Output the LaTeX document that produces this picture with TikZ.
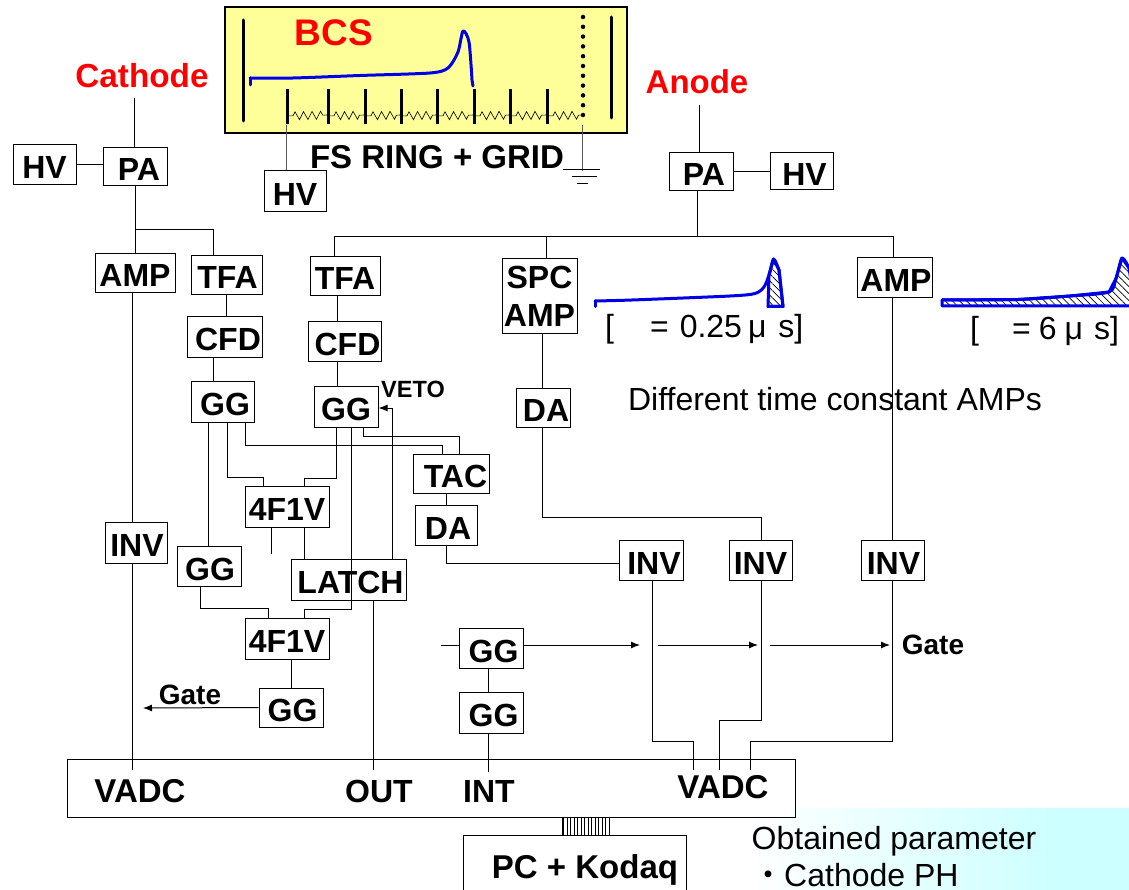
\documentclass[tikz,border=0pt]{standalone}
\usepackage{fontspec}
\setmainfont{Liberation Sans}
\newfontfamily\cjkfont{Noto Sans CJK JP}
\usepackage{tikz}
\usetikzlibrary{arrows.meta,decorations.pathmorphing,patterns.meta}
\definecolor{bcsyellow}{RGB}{255,255,153}
\definecolor{paleblue}{RGB}{204,255,255}
\definecolor{wave}{RGB}{0,0,230}
\newcommand{\sz}[1]{\fontsize{#1}{#1}\selectfont}

\begin{document}
\begin{tikzpicture}[x=1pt, y=-1pt,
	box/.style={draw, line width=1pt, fill=white, inner sep=0pt, text height=28pt, text depth=0pt, font=\sz{32}\bfseries},
	twobox/.style={draw, line width=1pt, fill=white, inner sep=0pt, align=center, font=\sz{32}\bfseries},
	lab/.style={inner sep=0pt, font=\sz{32}\bfseries},
	plain/.style={inner sep=0pt, font=\sz{32}},
	wire/.style={line width=1pt},
	tip/.style={wire, -{Latex[length=9pt, width=7pt]}},
	plate/.style={line width=3pt, line cap=round},
	pulse/.style={line width=3pt, wave, line join=round, line cap=round},
	hatch/.style={pattern={Lines[angle=-45, distance=5pt, line width=0.7pt]}}]
\useasboundingbox (0,0) rectangle (1129,890);

% backgrounds
\fill[left color=white, right color=paleblue] (745,808) rectangle (1060,890);
\fill[paleblue] (1060,808) rectangle (1129,890);
\draw[line width=1.3pt, fill=bcsyellow] (225,7) rectangle (627,133);

% chamber
\draw[plate] (243,20) -- (243,121);
\draw[plate] (611,17) -- (611,118);
\draw[line width=4.5pt, line cap=round, dash pattern=on 0pt off 9.8pt] (583,17) -- (583,115);
\foreach \x in {287, 328, 365, 401, 437, 474, 510, 547}
{
	\draw[plate, line cap=butt] (\x, 89) -- (\x, 124);
}
\foreach \a/\b in {287/328, 328/365, 365/401, 401/437, 437/474, 474/510, 510/547, 547/583}
{
	\draw[line width=0.6pt, decorate, decoration={zigzag, amplitude=4pt, segment length=8.5pt, pre length=6pt, post length=4pt}] (\a, 116) -- (\b, 115);
}
\draw[pulse] plot[smooth, tension=0.45] coordinates {(250,78) (293,78) (360,75.5) (430,73) (448,68) (458,52) (463,31) (469,42) (472,80)} -- (473,86);
\draw[pulse] (250,85) -- (250,78);

\node[lab, text=red, font=\sz{37}\bfseries] (bcs) at (334,33) {BCS};
\node[lab, text=red, font=\sz{33.3}\bfseries] (cathode) at (142,76) {Cathode};
\node[lab, text=red, font=\sz{33}\bfseries] (anode) at (697,82) {Anode};
\node[lab, font=\sz{33}\bfseries] (ring) at (437,157) {FS RING + GRID};

% boxes
\node[box, minimum width=63pt, minimum height=40pt] (hva) at (44.5,165) {HV};
\node[box, minimum width=64pt, minimum height=38pt] (paa) at (135,167) {\hspace{8pt}PA};
\node[box, minimum width=62pt, minimum height=41pt] (hvb) at (295,191.5) {HV};
\node[box, minimum width=64pt, minimum height=38pt] (pab) at (701,172) {\hspace{6pt}PA};
\node[box, minimum width=63pt, minimum height=37pt] (hvc) at (801.5,171.5) {\hspace{6pt}HV};

\node[box, minimum width=80pt, minimum height=39pt] (ampa) at (135,273) {AMP};
\node[box, minimum width=71pt, minimum height=39pt] (tfaa) at (226.5,275) {\hspace{2pt}TFA};
\node[box, minimum width=70pt, minimum height=39pt] (tfab) at (345,276) {TFA};
\node[twobox, minimum width=75pt, minimum height=75pt] (spc) at (539.5,296.5) {SPC\\[6pt]AMP};
\node[box, minimum width=75pt, minimum height=40pt] (ampb) at (894.5,278) {\hspace{3pt}AMP};
\node[box, minimum width=75pt, minimum height=40pt] (cfda) at (224.5,337) {\hspace{7pt}CFD};
\node[box, minimum width=73pt, minimum height=39pt] (cfdb) at (344.5,341.5) {\hspace{6pt}CFD};
\node[box, minimum width=63pt, minimum height=41pt] (gga) at (222.5,401.5) {\hspace{5pt}GG};
\node[box, minimum width=64pt, minimum height=41pt] (ggb) at (346,406.5) {GG};
\node[box, minimum width=54pt, minimum height=39pt] (daa) at (543,407.5) {\hspace{6pt}DA};
\node[box, minimum width=76pt, minimum height=39pt] (tac) at (451,473.5) {\hspace{9pt}TAC};
\node[box, minimum width=62pt, minimum height=40pt] (dab) at (446,525) {\hspace{4pt}DA};
\node[box, minimum width=84pt, minimum height=41pt] (fva) at (287,506.5) {4F1V};
\node[box, minimum width=62pt, minimum height=41pt] (inva) at (136,542.5) {\hspace{2pt}INV};
\node[box, minimum width=64pt, minimum height=40pt] (ggc) at (209,566) {\hspace{2pt}GG};
\node[box, minimum width=115pt, minimum height=41pt] (latch) at (348.5,579.5) {\hspace{4pt}LATCH};
\node[box, minimum width=64pt, minimum height=40pt] (invb) at (651,560) {\hspace{6pt}INV};
\node[box, minimum width=63pt, minimum height=40pt] (invc) at (760.5,560) {INV};
\node[box, minimum width=63pt, minimum height=40pt] (invd) at (892.5,560) {\hspace{2pt}INV};
\node[box, minimum width=84pt, minimum height=41pt] (fvb) at (287,638.5) {4F1V};
\node[box, minimum width=64pt, minimum height=40pt] (ggd) at (491,648) {\hspace{5pt}GG};
\node[box, minimum width=64pt, minimum height=41pt] (gge) at (491,712.5) {\hspace{5pt}GG};
\node[box, minimum width=64pt, minimum height=39pt] (ggf) at (291,707.5) {\hspace{3pt}GG};
\node[box, minimum width=728pt, minimum height=58pt] (adc) at (431,788) {};
\node[box, minimum width=223pt, minimum height=70pt] (pc) at (574.5,870) {};
\node[draw, line width=0.8pt, pattern={Lines[angle=90, distance=3.5pt, line width=0.8pt]}, minimum width=47pt, minimum height=18pt, inner sep=0pt] (bus) at (585.5,826) {};

% labels
\node[lab, font=\sz{33}\bfseries] (vadca) at (140,791) {VADC};
\node[lab] (out) at (379,791) {OUT};
\node[lab] (int) at (489,791) {INT};
\node[lab, font=\sz{33}\bfseries] (vadcb) at (723,787) {VADC};
\node[lab, font=\sz{33}\bfseries] (kodaq) at (585,870) {PC + Kodaq};
\node[lab, font=\sz{23.5}\bfseries] (veto) at (413,389) {VETO};
\node[lab, font=\sz{28}\bfseries] (gatea) at (190,695) {Gate};
\node[lab, font=\sz{28}\bfseries] (gateb) at (933,645) {Gate};
\node[plain] (diff) at (835,399) {Different time constant AMPs};
\node[plain] (obt) at (894,841) {Obtained parameter};
\node[plain, anchor=west] (cph) at (752,875) {\smash{\cjkfont ・}Cathode PH};
\node[plain, anchor=west] (fast) at (605,329) {[\hspace{36pt}=\hspace{11pt}0.25\hspace{6pt}μ\hspace{12pt}s]};
\node[plain, anchor=west] (slow) at (970,331) {[\hspace{33pt}=\hspace{8pt}6\hspace{8pt}μ\hspace{11pt}s]};

% free ends
\coordinate (endc) at (134,98);
\coordinate (enda) at (699,105);
\coordinate (tap) at (697,237);
\coordinate (gnd) at (582,171);
\coordinate (stub) at (271,554);
\coordinate (gateleft) at (143,708);
\coordinate (gatein) at (441,645);

% pulses
\filldraw[pulse, fill=white, hatch] (768,306.5) -- (769,275) -- (773.6,259) -- (779,270) -- (783,306.5) -- cycle;
\draw[pulse] plot[smooth, tension=0.45] coordinates {(595,301) (632,300) (730,296) (755,293.5) (764,287) (769,275) (773.6,259) (779,270)} -- (783,306.5) -- (768,306.5);
\draw[pulse] (595,306.5) -- (595,301);
\filldraw[pulse, fill=white, hatch] (942,306) -- (942,300) -- (1018,299.5) -- (1070,296) -- (1109,292) -- (1116,278.5) -- (1122,258) -- (1129,268) -- (1135,306) -- cycle;
\draw[pulse] plot[smooth, tension=0.45] coordinates {(942,300) (1018,299.5) (1070,296) (1109,292) (1116,278.5) (1122,258) (1129,268)};

% top connectors
\draw[wire] (endc) -- (134,0 |- paa.north);
\draw[wire] (hva.east) -- (paa.west |- hva.east);
\draw[wire] (enda) -- (699,0 |- pab.north);
\draw[wire] (pab.east |- hvc.west) -- (hvc.west);
\draw[wire, gray!70!black] (286,125) -- (286,0 |- hvb.north);
\draw[wire, gray!70!black] (582,125) -- (gnd);
\draw[wire] (563,170) -- (600,170);
\draw[wire] (572,177) -- (597,177);
\draw[wire] (577,184) -- (588,184);

% cathode side
\draw[wire] (135,0 |- paa.south) -- (135,0 |- ampa.north);
\draw[wire] (135,230) -- (213,230) -- (213,0 |- tfaa.north);
\draw[wire] (132,0 |- ampa.south) -- (132,0 |- inva.north);
\draw[wire] (132,0 |- inva.south) -- (132,770);
\draw[wire] (226,0 |- tfaa.south) -- (226,0 |- cfda.north);
\draw[wire] (213,0 |- cfda.south) -- (213,0 |- gga.north);
\draw[wire] (208,0 |- gga.south) -- (208,0 |- ggc.north);
\draw[wire] (227,0 |- gga.south) -- (227,477) -- (263,477) -- (263,0 |- fva.north);
\draw[wire] (245,0 |- gga.south) -- (245,445) -- (442,445) -- (442,0 |- tac.north);

% anode side
\draw[wire] (697,0 |- pab.south) -- (tap);
\draw[wire] (334,0 |- tfab.north) -- (334,237) -- (893,237) -- (893,0 |- ampb.north);
\draw[wire] (546,237) -- (546,0 |- spc.north);
\draw[wire] (337,0 |- tfab.south) -- (337,0 |- cfdb.north);
\draw[wire] (337,0 |- cfdb.south) -- (337,0 |- ggb.north);
\draw[wire] (542,0 |- spc.south) -- (542,0 |- daa.north);
\draw[wire] (542,0 |- daa.south) -- (542,517) -- (761,517) -- (761,0 |- invc.north);
\draw[wire] (892,0 |- ampb.south) -- (892,0 |- invd.north);

% middle logic
\draw[wire] (336,0 |- ggb.south) -- (336,478) -- (304,478) -- (304,0 |- fva.north);
\draw[wire] (351,0 |- ggb.south) -- (351,609) -- (304,609) -- (304,0 |- fvb.north);
\draw[wire] (363,0 |- ggb.south) -- (363,436) -- (459,436) -- (459,0 |- tac.north);
\draw[tip] (392,0 |- latch.north) -- (392,408) -- (ggb.east |- 0,408);
\draw[wire] (271,0 |- fva.south) -- (stub);
\draw[wire] (304,0 |- fva.south) -- (304,0 |- latch.north);
\draw[wire] (373,0 |- latch.south) -- (373,770);
\draw[wire] (200,0 |- ggc.south) -- (200,608) -- (268,608) -- (268,0 |- fvb.north);
\draw[wire] (446,0 |- tac.south) -- (446,0 |- dab.north);
\draw[wire] (446,0 |- dab.south) -- (446,563) -- (invb.west |- 0,563);
\draw[wire] (291,0 |- fvb.south) -- (291,0 |- ggf.north);
\draw[tip] (ggf.west) -- (gateleft);

% gate line
\draw[wire] (gatein) -- (ggd.west |- gatein);
\draw[tip] (ggd.east |- gatein) -- (640,645);
\draw[tip] (658,645) -- (758,645);
\draw[tip] (770,645) -- (890,645);
\draw[wire] (488,0 |- ggd.south) -- (488,0 |- gge.north);
\draw[wire] (488,0 |- gge.south) -- (488,772);

% into the ADC
\draw[wire] (652,0 |- invb.south) -- (652,741) -- (693,741) -- (693,770);
\draw[wire] (761,0 |- invc.south) -- (761,720) -- (719,720) -- (719,770);
\draw[wire] (892,0 |- invd.south) -- (892,741) -- (750,741) -- (750,770);
\end{tikzpicture}
\end{document}
